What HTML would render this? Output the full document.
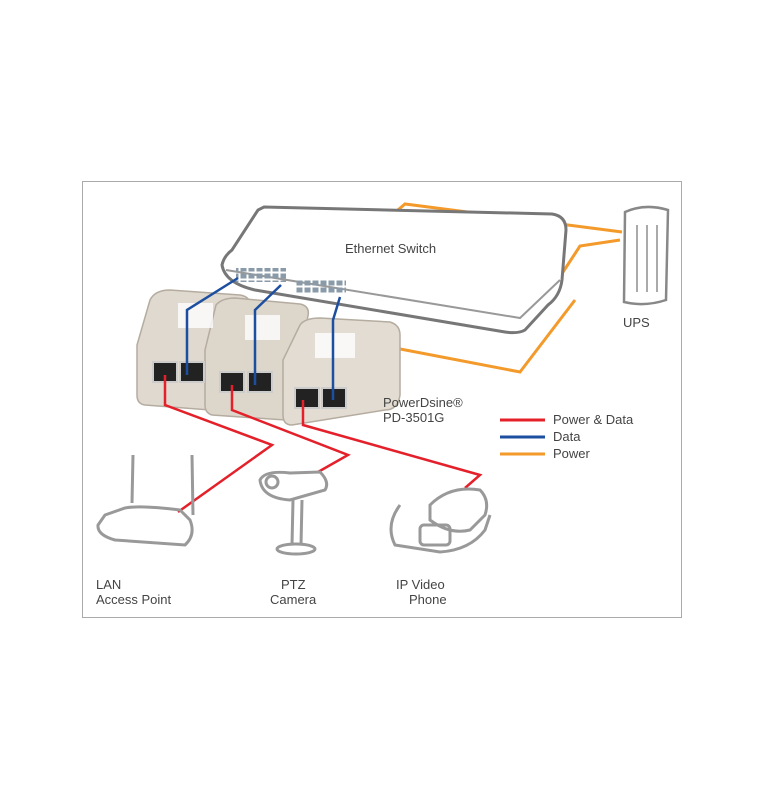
<!DOCTYPE html>
<html><head><style>
body{margin:0;background:#fff;}
svg text{font-family:"Liberation Sans",sans-serif;fill:#444;}
</style></head><body>
<svg width="764" height="800" viewBox="0 0 764 800" xmlns="http://www.w3.org/2000/svg">
<defs>
<pattern id="pp" width="8" height="7" patternUnits="userSpaceOnUse"><rect x="0.5" y="0.5" width="6" height="5" fill="#8a9aa8"/></pattern>
</defs>
<rect x="82.5" y="181.5" width="599" height="436" fill="#fff" stroke="#aaa"/>
<polyline points="392,215 405,204 622,232" fill="none" stroke="#f39a2b" stroke-width="3"/>
<polyline points="548,295 580,246 620,240" fill="none" stroke="#f39a2b" stroke-width="3"/>
<polyline points="395,348 520,372 575,300" fill="none" stroke="#f39a2b" stroke-width="3"/>
<path d="M264,207 L552,214 Q566,216 566,230 L562,280 Q560,296 548,305 L525,330 Q518,334 505,332 L255,290 Q225,283 222,265 Q224,256 232,250 L258,210 Z" fill="#fff" stroke="#777" stroke-width="3"/>
<path d="M226,270 L520,318 L560,280" fill="none" stroke="#999" stroke-width="2"/>
<text x="345" y="253" font-size="13">Ethernet Switch</text>
<rect x="236" y="268" width="50" height="14" fill="url(#pp)"/><rect x="296" y="280" width="50" height="14" fill="url(#pp)"/>
<path d="M625,212 Q645,203 668,210 L666,300 Q645,307 624,302 Z" fill="#fff" stroke="#888" stroke-width="2.5"/>
<line x1="637" y1="225" x2="637" y2="292" stroke="#aaa" stroke-width="2"/>
<line x1="647" y1="225" x2="647" y2="292" stroke="#aaa" stroke-width="2"/>
<line x1="657" y1="225" x2="657" y2="292" stroke="#aaa" stroke-width="2"/>
<text x="623" y="327" font-size="13">UPS</text>
<g stroke="#b5aca0" stroke-width="1.5">
<path d="M150,300 Q155,290 170,290 L240,295 Q252,297 250,308 L210,410 L145,405 Q137,404 137,395 L137,345 Z" fill="#e0d9cf"/>
<path d="M216,305 Q222,298 235,298 L300,304 Q310,306 308,316 L285,420 L212,415 Q205,413 205,405 L205,350 Z" fill="#ddd6cb"/>
<path d="M300,325 Q305,318 320,318 L390,322 Q400,325 400,335 L400,395 Q398,410 385,410 L292,425 Q283,425 283,415 L283,360 Z" fill="#e3dcd2"/>
</g>
<g fill="#fff" opacity="0.8"><rect x="178" y="303" width="35" height="25"/><rect x="245" y="315" width="35" height="25"/><rect x="315" y="333" width="40" height="25"/></g>
<g fill="#222" stroke="#ccc" stroke-width="2">
<rect x="153" y="362" width="24" height="20"/><rect x="180" y="362" width="24" height="20"/>
<rect x="220" y="372" width="24" height="20"/><rect x="248" y="372" width="24" height="20"/>
<rect x="295" y="388" width="24" height="20"/><rect x="322" y="388" width="24" height="20"/>
</g>
<g fill="none" stroke="#1d4fa0" stroke-width="2.5">
<polyline points="238,278 187,310 187,375"/>
<polyline points="281,285 255,310 255,385"/>
<polyline points="340,297 333,320 333,400"/>
</g>
<g fill="none" stroke="#e4202a" stroke-width="2.5">
<polyline points="165,375 165,405 272,445 178,512"/>
<polyline points="232,385 232,410 348,455 318,472"/>
<polyline points="303,400 303,425 480,475 465,488"/>
</g>
<text x="383" y="407" font-size="13">PowerDsine®</text>
<text x="383" y="422" font-size="13">PD-3501G</text>
<line x1="500" y1="420" x2="545" y2="420" stroke="#e4202a" stroke-width="3"/>
<line x1="500" y1="437" x2="545" y2="437" stroke="#1d4fa0" stroke-width="3"/>
<line x1="500" y1="454" x2="545" y2="454" stroke="#f39a2b" stroke-width="3"/>
<text x="553" y="424" font-size="13">Power &amp; Data</text>
<text x="553" y="441" font-size="13">Data</text>
<text x="553" y="458" font-size="13">Power</text>
<g fill="none" stroke="#999" stroke-width="3">
<line x1="133" y1="455" x2="132" y2="503"/><line x1="192" y1="455" x2="193" y2="515"/>
<path d="M105,515 L125,508 Q140,505 180,510 L190,520 Q196,535 185,545 L115,540 Q97,535 98,525 Z"/>
</g>
<text x="96" y="589" font-size="13">LAN</text>
<text x="96" y="604" font-size="13">Access Point</text>
<g fill="none" stroke="#999" stroke-width="3">
<path d="M260,480 Q265,470 290,473 L320,472 Q330,482 325,490 L290,500 Q262,498 260,480 Z"/>
<circle cx="272" cy="482" r="6"/>
<line x1="293" y1="500" x2="292" y2="545"/><line x1="302" y1="500" x2="301" y2="545"/>
<ellipse cx="296" cy="549" rx="19" ry="5"/>
</g>
<text x="281" y="589" font-size="13">PTZ</text>
<text x="270" y="604" font-size="13">Camera</text>
<g fill="none" stroke="#999" stroke-width="3">
<path d="M430,505 Q450,485 480,490 Q490,500 485,515 L470,530 Q450,535 430,520 Z"/>
<path d="M400,505 Q385,525 395,545 L440,552 Q470,550 485,530 L490,515"/>
<rect x="420" y="525" width="30" height="20" rx="4"/>
</g>
<text x="396" y="589" font-size="13">IP Video</text>
<text x="409" y="604" font-size="13">Phone</text>
</svg>
</body></html>
